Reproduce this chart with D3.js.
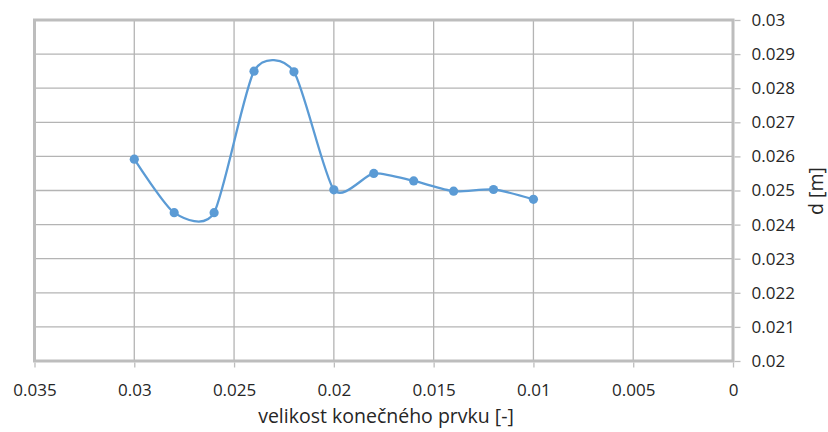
<!DOCTYPE html>
<html><head><meta charset="utf-8">
<script src="https://cdn.jsdelivr.net/npm/d3@7"></script>
<style>body{margin:0;background:#fff}svg{display:block;font-family:"Open Sans",sans-serif}</style>
</head><body><svg id="c" width="828" height="432"></svg>
<script>
const xValues = [0.03, 0.028, 0.026, 0.024, 0.022, 0.02, 0.018, 0.016, 0.014, 0.012, 0.01];
const dValues = [0.02592, 0.02435, 0.02435, 0.0285, 0.02848, 0.02502, 0.0255, 0.02528, 0.02498, 0.02503, 0.02474];
const xTicks = [0.035, 0.03, 0.025, 0.02, 0.015, 0.01, 0.005, 0];
const yTicks = [0.02, 0.021, 0.022, 0.023, 0.024, 0.025, 0.026, 0.027, 0.028, 0.029, 0.03];
const xTitle = "velikost konečného prvku [-]";
const yTitle = "d [m]";

const svg = d3.select("#c");
const L = 34.5, R = 733, T = 20, B = 361;
const x = d3.scaleLinear().domain([0.035, 0]).range([L, R]);
const y = d3.scaleLinear().domain([0.02, 0.03]).range([B, T]);
const grid = "#b4b4b4";

svg.append("g").selectAll("line").data(yTicks).join("line")
  .attr("x1", L).attr("x2", R).attr("y1", d => y(d)).attr("y2", d => y(d))
  .attr("stroke", grid).attr("stroke-width", 1.3);
svg.append("g").selectAll("line").data(xTicks).join("line")
  .attr("y1", T).attr("y2", B).attr("x1", d => x(d)).attr("x2", d => x(d))
  .attr("stroke", grid).attr("stroke-width", 1.3);
svg.append("rect").attr("x", L).attr("y", T).attr("width", R - L).attr("height", B - T)
  .attr("fill", "none").attr("stroke", "#bdbdbd").attr("stroke-width", 3);

const xAxis = svg.append("g").attr("transform", `translate(0,${B + 1.5})`)
  .call(d3.axisBottom(x).tickValues(xTicks).tickSize(5).tickPadding(16).tickFormat(d => String(d)));
const yAxis = svg.append("g").attr("transform", `translate(${R + 1.5},0)`)
  .call(d3.axisRight(y).tickValues(yTicks).tickSize(6).tickPadding(11).tickFormat(d => String(+d.toFixed(3))));
[xAxis, yAxis].forEach(g => {
  g.select(".domain").remove();
  g.selectAll(".tick line").attr("stroke", "#bdbdbd").attr("stroke-width", 1.3);
  g.selectAll("text").attr("fill", "#262626").attr("font-size", 17).attr("font-family", '"Open Sans",sans-serif');
});

const pts = xValues.map((v, i) => [x(v), y(dValues[i])]);
svg.append("path").attr("d", d3.line().curve(d3.curveCardinal.tension(0.3))(pts))
  .attr("fill", "none").attr("stroke", "#5b9bd5").attr("stroke-width", 2.3);
svg.append("g").selectAll("circle").data(pts).join("circle")
  .attr("cx", d => d[0]).attr("cy", d => d[1]).attr("r", 4.6).attr("fill", "#5b9bd5");

svg.append("text").attr("x", 386).attr("y", 423).attr("text-anchor", "middle")
  .attr("font-size", 19.5).attr("fill", "#262626").text(xTitle);
svg.append("text").attr("transform", "translate(823,191) rotate(-90)").attr("text-anchor", "middle")
  .attr("font-size", 19.5).attr("fill", "#262626").text(yTitle);
</script></body></html>
